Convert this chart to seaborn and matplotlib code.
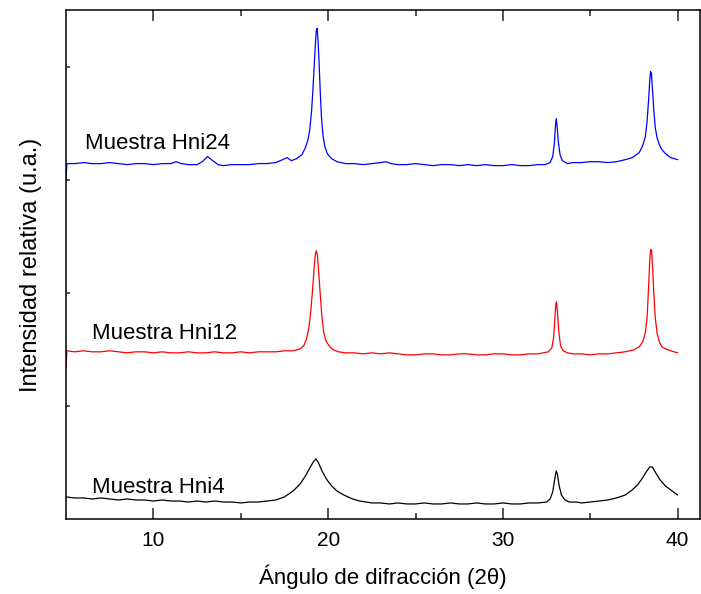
import numpy as np
import pandas as pd
import matplotlib
matplotlib.use("Agg")
import matplotlib.pyplot as plt
import seaborn as sns

# ---- data ----
x_hni4 = [5.0, 5.5, 6.0, 6.5, 7.0, 7.5, 8.0, 8.5, 9.0, 9.5, 10.0, 10.5, 11.0, 11.5, 12.0, 12.5,
          13.0, 13.5, 14.0, 14.5, 15.0, 15.5, 16.0, 16.5,
          17.0, 17.5, 18.0, 18.4, 18.7, 18.95, 19.15, 19.3, 19.45, 19.65, 19.9, 20.2, 20.5,
          20.9, 21.4, 21.8, 22.5,
          23.0, 23.5, 24.0, 24.5, 25.0, 25.5, 26.0, 26.5, 27.0, 27.5, 28.0, 28.5, 29.0, 29.5,
          30.0, 30.5, 31.0, 31.5, 32.0,
          32.5, 32.7, 32.85, 32.95, 33.05, 33.12, 33.22, 33.35, 33.55, 33.8, 34.2, 34.5,
          35.0, 35.5, 36.0, 36.5, 37.0, 37.4, 37.7, 37.95, 38.2, 38.4, 38.55, 38.75, 39.0,
          39.3, 39.6, 40.0]
y_hni4 = [195, 186, 186, 177, 186, 177, 168, 177, 168, 168, 159, 168, 159, 159, 150, 159,
          150, 159, 150, 150, 142, 150, 150, 159,
          168, 195, 248, 310, 381, 451, 504, 531, 496, 425, 354, 292, 248,
          212, 177, 159, 142,
          142, 133, 142, 133, 133, 142, 133, 133, 142, 133, 133, 142, 133, 133,
          142, 133, 133, 142, 142,
          150, 177, 239, 336, 425, 398, 292, 212, 168, 150, 150, 142,
          150, 159, 168, 186, 212, 257, 301, 354, 416, 460, 460, 407, 345,
          292, 257, 212]

x_hni12 = [5.0, 5.05, 5.5, 6.0, 6.5, 7.0, 7.5, 8.0, 8.5, 9.0, 9.5, 10.0, 10.5, 11.0, 11.5, 12.0,
           12.5, 13.0, 13.5, 14.0, 14.5, 15.0, 15.5, 16.0, 16.5, 17.0, 17.5, 18.0,
           18.4, 18.6, 18.75, 18.9, 19.0, 19.1, 19.2, 19.27, 19.32, 19.38, 19.45, 19.55, 19.65,
           19.75, 19.9, 20.1, 20.3, 20.6, 21.0, 21.5, 22.0, 22.5,
           23.0, 23.5, 24.0, 24.5, 25.0, 25.5, 26.0, 26.5, 27.0, 27.5, 28.0, 28.5, 29.0, 29.5,
           30.0, 30.5, 31.0, 31.5, 32.0,
           32.6, 32.8, 32.9, 32.97, 33.03, 33.07, 33.12, 33.2, 33.3, 33.45, 33.7, 34.0, 34.5,
           35.0, 35.5, 36.0, 36.5, 37.0, 37.5,
           37.8, 38.0, 38.15, 38.25, 38.33, 38.4, 38.45, 38.5, 38.56, 38.63, 38.72, 38.82,
           38.95, 39.1, 39.3, 39.6, 39.8, 40.0]
y_hni12 = [1336, 1487, 1478, 1487, 1478, 1478, 1487, 1478, 1469, 1478, 1478, 1469, 1478, 1469, 1469, 1478,
           1469, 1469, 1478, 1469, 1469, 1478, 1469, 1478, 1478, 1478, 1487, 1487,
           1505, 1531, 1584, 1690, 1823, 2009, 2221, 2345, 2372, 2336, 2204, 1982, 1779,
           1646, 1566, 1522, 1496, 1478, 1469, 1469, 1460, 1469,
           1460, 1469, 1460, 1451, 1451, 1460, 1460, 1451, 1451, 1460, 1460, 1451, 1451, 1460,
           1460, 1451, 1451, 1460, 1460,
           1478, 1513, 1602, 1761, 1903, 1920, 1832, 1655, 1531, 1487, 1469, 1460, 1460,
           1451, 1460, 1460, 1469, 1478, 1496,
           1522, 1566, 1646, 1779, 2027, 2274, 2381, 2381, 2248, 2009, 1779, 1646,
           1566, 1522, 1505, 1487, 1478, 1469]

x_hni24 = [5.0, 5.05, 5.5, 6.0, 6.5, 7.0, 7.5, 8.0, 8.5, 9.0, 9.5, 10.0, 10.5, 11.0, 11.3, 11.6,
           12.0, 12.5, 12.8, 13.1, 13.4, 13.7, 14.0, 14.5, 15.0, 15.5, 16.0, 16.5, 17.0, 17.4,
           17.65, 17.9, 18.2,
           18.5, 18.7, 18.85, 18.95, 19.05, 19.13, 19.2, 19.27, 19.32, 19.37, 19.42, 19.48,
           19.55, 19.62, 19.7, 19.8, 19.95, 20.2,
           20.5, 21.0, 21.5, 22.0, 22.5, 23.0, 23.3, 23.6, 24.0, 24.5, 25.0, 25.5, 26.0,
           26.5, 27.0, 27.5, 28.0, 28.5, 29.0, 29.5, 30.0, 30.5, 31.0, 31.5, 32.0, 32.4,
           32.7, 32.85, 32.95, 33.0, 33.05, 33.1, 33.17, 33.27, 33.4, 33.7, 34.0, 34.5,
           35.0, 35.5, 36.0, 36.5, 37.0, 37.4,
           37.8, 38.0, 38.15, 38.25, 38.33, 38.4, 38.45, 38.5, 38.56, 38.64, 38.72, 38.82,
           38.95, 39.1, 39.3, 39.6, 40.0]
y_hni24 = [3009, 3142, 3142, 3151, 3142, 3142, 3151, 3142, 3133, 3142, 3142, 3133, 3142, 3142, 3159, 3142,
           3133, 3133, 3159, 3204, 3168, 3133, 3124, 3133, 3133, 3133, 3142, 3142, 3151, 3177,
           3195, 3168, 3186,
           3221, 3283, 3354, 3443, 3602, 3797, 4000, 4195, 4319, 4337, 4239, 4044,
           3770, 3549, 3398, 3301, 3230, 3186,
           3159, 3142, 3142, 3133, 3142, 3151, 3159, 3142, 3133, 3133, 3142, 3133, 3124,
           3133, 3133, 3124, 3133, 3124, 3133, 3124, 3124, 3133, 3124, 3124, 3133, 3133,
           3151, 3204, 3328, 3460, 3540, 3478, 3336, 3221, 3168, 3142, 3151, 3151,
           3159, 3159, 3151, 3159, 3177, 3195,
           3239, 3301, 3381, 3513, 3690, 3867, 3956, 3938, 3797, 3602, 3460, 3372,
           3310, 3266, 3230, 3195, 3177]

series_names = ["Muestra Hni4", "Muestra Hni12", "Muestra Hni24"]
series_colors = ["#000000", "#FF0000", "#0000FF"]
label_x = [6.5, 6.5, 6.1]
label_y = [230, 1593, 3275]

xlabel_text = "Ángulo de difracción (2θ)"
ylabel_text = "Intensidad relativa (u.a.)"

df = pd.concat([
    pd.DataFrame({"angle": x_hni4, "intensity": y_hni4, "sample": series_names[0]}),
    pd.DataFrame({"angle": x_hni12, "intensity": y_hni12, "sample": series_names[1]}),
    pd.DataFrame({"angle": x_hni24, "intensity": y_hni24, "sample": series_names[2]}),
], ignore_index=True)

sns.set_style("ticks")
plt.rcParams["font.family"] = ["Liberation Sans", "DejaVu Sans"]

W, H = 701, 594
fig = plt.figure(figsize=(W / 100, H / 100), dpi=100)
ax = fig.add_axes([66 / W, 1 - 519 / H, (699.5 - 66) / W, (519 - 10) / H])

sns.lineplot(data=df, x="angle", y="intensity", hue="sample", hue_order=series_names,
             palette=series_colors, estimator=None, sort=False, linewidth=0.9,
             legend=False, ax=ax)

for name, tx, ty in zip(series_names, label_x, label_y):
    ax.text(tx, ty, name, fontsize=16, color="black", ha="left", va="baseline")

ax.set_xlim(5, 41.25)
ax.set_ylim(0, 4500)
ax.set_xticks([10, 20, 30, 40])
ax.set_xticks([15, 25, 35], minor=True)
ax.set_yticks([1000, 2000, 3000, 4000])
ax.set_yticklabels([])

ax.tick_params(axis="x", which="major", direction="in", length=8, width=1.1,
               top=True, labelsize=15, pad=9, labelcolor="black")
ax.tick_params(axis="x", which="minor", direction="in", length=4, width=1.1, top=True)
ax.tick_params(axis="y", which="major", direction="in", length=3, width=1.1,
               left=True, right=False)

for sp in ax.spines.values():
    sp.set_linewidth(1.1)
    sp.set_color("black")

ax.set_xlabel(xlabel_text, fontsize=16, labelpad=10, color="black")
ax.set_ylabel(ylabel_text, fontsize=17, labelpad=14, color="black")

fig.savefig("out.png", dpi=100)
